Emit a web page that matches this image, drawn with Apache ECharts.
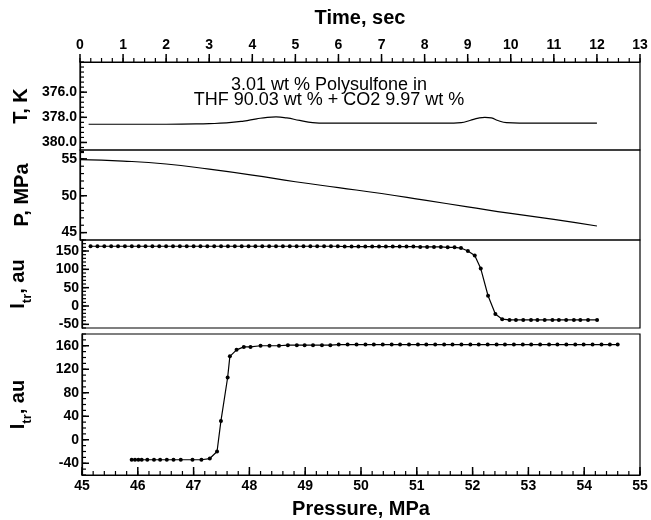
<!DOCTYPE html>
<html>
<head>
<meta charset="utf-8">
<script src="https://cdn.jsdelivr.net/npm/echarts@6/dist/echarts.min.js"></script>
<style>
  html, body { margin: 0; padding: 0; background: #fff; }
  #chart { width: 651px; height: 520px; }
</style>
</head>
<body>
<div id="chart"></div>
<script>
// panel 1: temperature vs time
const tempTime = [0.2, 1.0, 2.0, 3.0, 3.4, 3.8, 4.1, 4.35, 4.55, 4.8, 5.1, 5.4, 5.7, 6.5, 7.5, 8.5, 8.85, 9.05, 9.25, 9.4, 9.55, 9.7, 9.9, 10.5, 11.2, 12.0];
const tempK = [378.55, 378.55, 378.55, 378.5, 378.45, 378.3, 378.12, 378.0, 377.97, 378.05, 378.25, 378.42, 378.47, 378.47, 378.47, 378.47, 378.42, 378.25, 378.06, 378.0, 378.05, 378.25, 378.42, 378.46, 378.46, 378.46];

// panel 2: pressure vs time
const pressTime = [0, 1, 2, 3, 4, 5, 6, 7, 8, 9, 10, 11, 12];
const pressMPa = [54.9, 54.7, 54.3, 53.6, 52.8, 51.9, 51.1, 50.3, 49.4, 48.5, 47.6, 46.8, 45.9];

// panel 3: transmitted intensity vs time
const itrTime = [0.20, 0.36, 0.52, 0.68, 0.84, 1.00, 1.16, 1.32, 1.48, 1.64, 1.80, 1.96, 2.12, 2.28, 2.44, 2.60, 2.76, 2.92,
  3.08, 3.24, 3.40, 3.56, 3.72, 3.88, 4.04, 4.20, 4.36, 4.52, 4.68, 4.84, 5.00, 5.16, 5.32, 5.48, 5.64, 5.80, 5.96,
  6.12, 6.28, 6.44, 6.60, 6.76, 6.92, 7.08, 7.24, 7.40, 7.56, 7.72, 7.88, 8.04, 8.20, 8.36, 8.52, 8.68, 8.83,
  8.99, 9.15, 9.29, 9.46, 9.63, 9.79,
  9.96, 10.11, 10.28, 10.46, 10.61, 10.78, 10.96, 11.11, 11.28, 11.46, 11.61, 11.79, 12.00];
const itrTimeVal = [163, 163, 163, 163, 163, 163, 163, 163, 163, 163, 163, 163, 163, 163, 163, 163, 163, 163,
  163, 163, 163, 163, 163, 163, 163, 163, 163, 163, 163, 163, 163, 163, 163, 163, 163, 163, 163,
  162, 162, 162, 162, 162, 162, 162, 162, 162, 162, 162, 161, 161, 161, 161, 160, 160, 158,
  150, 138, 102, 28, -22, -36,
  -38, -38, -38, -38, -38, -38, -38, -38, -38, -38, -38, -38, -38];

// panel 4: transmitted intensity vs pressure
const itrPress = [45.89, 45.95, 46.01, 46.07, 46.17, 46.29, 46.40, 46.52, 46.64, 46.77, 46.98, 47.14, 47.29,
  47.42, 47.49, 47.61, 47.65, 47.77, 47.90, 48.02, 48.20, 48.36, 48.53, 48.69, 48.85, 48.99, 49.14, 49.30, 49.45,
  49.60, 49.76, 49.92, 50.08, 50.23, 50.39, 50.55, 50.70, 50.86, 51.02, 51.17, 51.33, 51.49, 51.64, 51.80, 51.96,
  52.11, 52.27, 52.43, 52.58, 52.74, 52.90, 53.05, 53.21, 53.37, 53.52, 53.68, 53.84, 53.99, 54.15, 54.31, 54.46, 54.60];
const itrPressVal = [-34, -34, -34, -34, -34, -34, -34, -34, -34, -34, -34, -34, -32,
  -20, 32, 106, 142, 153, 158, 158, 160, 160, 160, 161, 161, 161, 161, 161, 161,
  162, 162, 162, 162, 162, 162, 162, 162, 162, 162, 162, 162, 162, 162, 162, 162,
  162, 162, 162, 162, 162, 162, 162, 162, 162, 162, 162, 162, 162, 162, 162, 162, 162];

// tick labels
const timeTicks = [0, 1, 2, 3, 4, 5, 6, 7, 8, 9, 10, 11, 12, 13];
const pressAxisTicks = [45, 46, 47, 48, 49, 50, 51, 52, 53, 54, 55];
const tempTicks = [376, 378, 380];
const pressTicks = [45, 50, 55];
const itrTicks3 = [-50, 0, 50, 100, 150];
const itrTicks4 = [-40, 0, 40, 80, 120, 160];

const FONT = 'Liberation Sans, Arial, sans-serif';
const zip = (xs, ys) => xs.map((x, i) => [x, ys[i]]);

// evenly stepped minor tick positions (axis structure, not chart data)
function steps(min, max, step) {
  const out = [];
  const n = Math.round((max - min) / step);
  for (let i = 0; i <= n; i++) out.push(Math.round((min + i * step) * 1000) / 1000);
  return out;
}

const lbl = (extra) => Object.assign({ fontFamily: FONT, fontWeight: 'bold', fontSize: 14, color: '#000' }, extra);
const nameStyle = () => ({ fontFamily: FONT, fontWeight: 'bold', fontSize: 20, color: '#000' });
const axLine = () => ({ show: true, onZero: false, lineStyle: { color: '#000', width: 1.2 } });

const itrName = '{b|I}{s|tr}{b|, au}';
const itrRich = () => ({
  b: { fontFamily: FONT, fontWeight: 'bold', fontSize: 20, color: '#000', lineHeight: 20 },
  s: { fontFamily: FONT, fontWeight: 'bold', fontSize: 13, color: '#000', lineHeight: 32, verticalAlign: 'bottom' }
});

function grid(top, height) {
  return { left: 80, width: 560, top: top, height: height, show: true, borderColor: '#000', borderWidth: 1.2 };
}

function timeAxis(gridIndex, show) {
  return {
    type: 'value', gridIndex: gridIndex, min: 0, max: 13, interval: 1, show: show,
    position: 'top',
    name: show ? 'Time, sec' : '',
    nameLocation: 'middle', nameGap: 34,
    nameTextStyle: nameStyle(),
    axisLine: axLine(),
    axisTick: { show: false },
    axisLabel: lbl({ margin: 10 }),
    splitLine: { show: false }
  };
}

function yAxis(gridIndex, min, max, ticks, name, opts) {
  return Object.assign({
    type: 'value', gridIndex: gridIndex, min: min, max: max, position: 'left',
    name: name, nameLocation: 'middle', nameGap: 48,
    nameTextStyle: nameStyle(),
    axisLine: axLine(),
    axisTick: { show: false },
    axisLabel: lbl({ margin: 3, customValues: ticks.slice() }),
    splitLine: { show: false }
  }, opts || {});
}

// tick marks drawn as a custom series through the axis scales
function tickSeries(xi, yi, values, side, len, width, ref) {
  return {
    type: 'custom', xAxisIndex: xi, yAxisIndex: yi, silent: true, clip: false, z: 10,
    data: values.map(v => [v]),
    renderItem: function (params, api) {
      const cs = params.coordSys;
      const v = api.value(0);
      let x1, y1, x2, y2;
      if (side === 'top') {
        x1 = x2 = api.coord([v, ref])[0]; y1 = cs.y; y2 = cs.y - len;
      } else if (side === 'bottom') {
        x1 = x2 = api.coord([v, ref])[0]; y1 = cs.y + cs.height; y2 = y1 - len;
      } else {
        y1 = y2 = api.coord([ref, v])[1]; x1 = cs.x; x2 = cs.x + len;
      }
      return { type: 'line', shape: { x1: x1, y1: y1, x2: x2, y2: y2 }, style: { stroke: '#000', lineWidth: width } };
    }
  };
}

const option = {
  animation: false,
  backgroundColor: '#fff',
  grid: [grid(62, 88), grid(150, 90), grid(240, 88), grid(334, 142)],
  xAxis: [
    timeAxis(0, true),
    timeAxis(1, false),
    timeAxis(2, false),
    {
      type: 'value', gridIndex: 3, min: 45, max: 55, interval: 1, position: 'bottom',
      name: 'Pressure, MPa', nameLocation: 'middle', nameGap: 24,
      nameTextStyle: nameStyle(),
      axisLine: axLine(),
      axisTick: { show: false },
      axisLabel: lbl({ margin: 4 }),
      splitLine: { show: false }
    }
  ],
  yAxis: [
    yAxis(0, 373.6, 380.6, tempTicks, 'T, K', {
      inverse: true,
      axisLabel: lbl({ margin: 3, customValues: tempTicks.slice(), formatter: v => v.toFixed(1) })
    }),
    yAxis(1, 44, 56.2, pressTicks, 'P, MPa'),
    yAxis(2, -60, 180, itrTicks3, itrName, { nameTextStyle: { rich: itrRich() } }),
    yAxis(3, -60, 180, itrTicks4, itrName, { nameTextStyle: { rich: itrRich() } })
  ],
  graphic: [{
    type: 'text', x: 329, y: 78,
    style: {
      text: '3.01 wt % Polysulfone in\nTHF 90.03 wt % + CO2 9.97 wt %',
      font: '18px ' + FONT, fill: '#000', align: 'center', verticalAlign: 'top', lineHeight: 15
    }
  }],
  series: [
    {
      type: 'line', xAxisIndex: 0, yAxisIndex: 0, data: zip(tempTime, tempK),
      smooth: true, showSymbol: false, lineStyle: { color: '#000', width: 1.2 }
    },
    {
      type: 'line', xAxisIndex: 1, yAxisIndex: 1, data: zip(pressTime, pressMPa),
      smooth: true, showSymbol: false, lineStyle: { color: '#000', width: 1.2 }
    },
    {
      type: 'line', xAxisIndex: 2, yAxisIndex: 2, data: zip(itrTime, itrTimeVal),
      symbol: 'circle', symbolSize: 4, itemStyle: { color: '#000' },
      lineStyle: { color: '#000', width: 1.2 }
    },
    {
      type: 'line', xAxisIndex: 3, yAxisIndex: 3, data: zip(itrPress, itrPressVal),
      symbol: 'circle', symbolSize: 4, itemStyle: { color: '#000' },
      lineStyle: { color: '#000', width: 1.2 }
    },
    // top time axis ticks
    tickSeries(0, 0, timeTicks, 'top', 8, 1.5, 378),
    tickSeries(0, 0, steps(0, 13, 0.25), 'top', 4, 1.2, 378),
    // bottom pressure axis ticks
    tickSeries(3, 3, pressAxisTicks, 'bottom', 8, 1.5, 0),
    tickSeries(3, 3, steps(45, 55, 0.2), 'bottom', 4, 1.2, 0),
    // left axis ticks
    tickSeries(0, 0, tempTicks, 'left', 7, 1.5, 5),
    tickSeries(0, 0, steps(373.6, 380.6, 0.4), 'left', 4, 1.2, 5),
    tickSeries(1, 1, pressTicks, 'left', 7, 1.5, 5),
    tickSeries(1, 1, steps(44, 56, 1), 'left', 4, 1.2, 5),
    tickSeries(2, 2, itrTicks3, 'left', 7, 1.5, 5),
    tickSeries(2, 2, steps(-60, 180, 10), 'left', 4, 1.2, 5),
    tickSeries(3, 3, itrTicks4, 'left', 7, 1.5, 50),
    tickSeries(3, 3, steps(-60, 180, 10), 'left', 4, 1.2, 50)
  ]
};

const myChart = echarts.init(document.getElementById('chart'), null, { renderer: 'canvas' });
myChart.setOption(option);
</script>
</body>
</html>
